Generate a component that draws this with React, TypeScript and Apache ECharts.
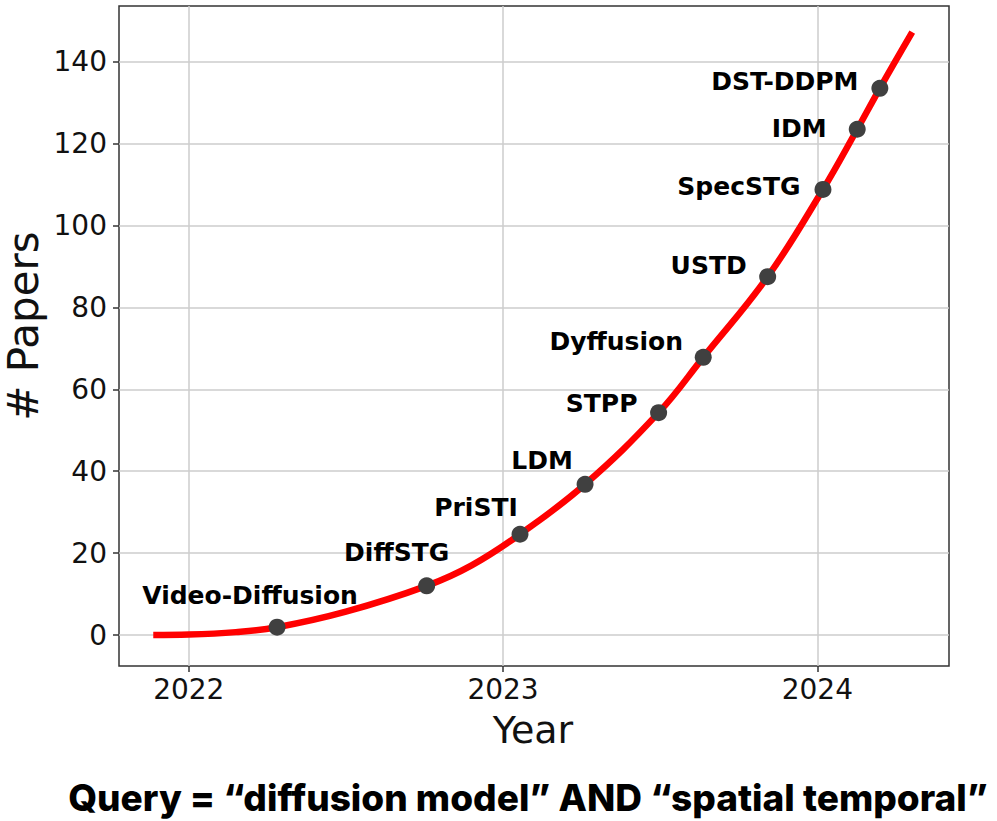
import React, { useEffect, useRef } from "react";
import * as echarts from "echarts";

// Smooth trend curve (year, # papers)
const curveYears = [2021.887, 2022.0, 2022.15, 2022.281, 2022.5, 2022.757, 2022.9, 2023.054, 2023.261, 2023.495, 2023.637, 2023.842, 2024.018, 2024.127, 2024.199, 2024.302];
const curveCounts = [0, 0.1, 0.7, 1.9, 5.7, 12.0, 17.0, 24.6, 36.8, 54.3, 67.8, 87.5, 108.8, 123.5, 133.5, 147.2];

// Annotated papers
const paperNames = ["Video-Diffusion", "DiffSTG", "PriSTI", "LDM", "STPP", "Dyffusion", "USTD", "SpecSTG", "IDM", "DST-DDPM"];
const paperYears = [2022.281, 2022.757, 2023.054, 2023.261, 2023.495, 2023.637, 2023.842, 2024.018, 2024.127, 2024.199];
const paperCounts = [1.9, 12.0, 24.6, 36.8, 54.3, 67.8, 87.5, 108.8, 123.5, 133.5];

// Tick labels
const xTicks = [2022, 2023, 2024];
const yTicks = [0, 20, 40, 60, 80, 100, 120, 140];

// Label placement (layout only): offset of label centre from its dot, px
const labelOffsets = [[-27, -32], [-30, -33], [-44, -27], [-43, -24], [-57, -9], [-87, -16], [-59, -11], [-84, -3], [-58, -1], [-95, -7]];

const X_MIN = 2021.778;
const X_MAX = 2024.419;
const Y_MIN = -7.57;
const Y_MAX = 153.6;

export default function App() {
  const ref = useRef<HTMLDivElement>(null);

  useEffect(() => {
    if (!ref.current) return;
    const chart = echarts.init(ref.current, null, { renderer: "svg" });

    const axisColor = "#333333";
    const gridColor = "#cccccc";

    chart.setOption({
      animation: false,
      backgroundColor: "#ffffff",
      grid: {
        left: 119,
        top: 6,
        right: 48,
        bottom: 155,
        show: true,
        borderColor: axisColor,
        borderWidth: 1.5,
        backgroundColor: "transparent",
      },
      xAxis: {
        type: "value",
        position: "bottom",
        min: X_MIN,
        max: X_MAX,
        axisLine: { show: false, onZero: false },
        axisTick: {
          show: true,
          inside: false,
          length: 6,
          customValues: xTicks,
          lineStyle: { color: axisColor, width: 1.5 },
        },
        axisLabel: {
          customValues: xTicks,
          margin: 9,
          fontFamily: "DejaVu Sans",
          fontSize: 28,
          color: "#111111",
          formatter: (v: number) => String(Math.round(v)),
        },
        splitLine: { show: true, lineStyle: { color: gridColor, width: 1.5 } },
      },
      yAxis: {
        type: "value",
        position: "left",
        min: Y_MIN,
        max: Y_MAX,
        axisLine: { show: false, onZero: false },
        axisTick: {
          show: true,
          inside: false,
          length: 6,
          customValues: yTicks,
          lineStyle: { color: axisColor, width: 1.5 },
        },
        axisLabel: {
          customValues: yTicks,
          margin: 12,
          fontFamily: "DejaVu Sans",
          fontSize: 28,
          color: "#111111",
          formatter: (v: number) => String(Math.round(v)),
        },
        splitLine: { show: true, lineStyle: { color: gridColor, width: 1.5 } },
      },
      series: [
        {
          type: "line",
          data: curveYears.map((y, i) => [y, curveCounts[i]]),
          smooth: 0.4,
          showSymbol: false,
          lineStyle: { color: "#ff0000", width: 6.5, cap: "butt" },
          z: 2,
        },
        {
          type: "scatter",
          data: paperYears.map((y, i) => ({
            value: [y, paperCounts[i]],
            name: paperNames[i],
            label: { offset: labelOffsets[i] },
          })),
          symbol: "circle",
          symbolSize: 17,
          itemStyle: { color: "#404040", opacity: 1 },
          label: {
            show: true,
            position: "inside",
            align: "center",
            verticalAlign: "middle",
            formatter: (p: any) => p.name,
            fontFamily: "DejaVu Sans",
            fontWeight: "bold",
            fontSize: 25,
            color: "#000000",
          },
          z: 3,
        },
      ],
      graphic: [
        {
          type: "text",
          x: 533,
          y: 730,
          style: {
            text: "Year",
            fontFamily: "DejaVu Sans",
            fontSize: 38,
            fill: "#111111",
            align: "center",
            verticalAlign: "middle",
          },
        },
        {
          type: "text",
          x: 23,
          y: 326,
          rotation: Math.PI / 2,
          style: {
            text: "# Papers",
            fontFamily: "DejaVu Sans",
            fontSize: 42,
            fill: "#111111",
            align: "center",
            verticalAlign: "middle",
          },
        },
        {
          type: "text",
          x: 528,
          y: 797,
          style: {
            text: "Query = \u201cdiffusion model\u201d AND \u201cspatial temporal\u201d",
            fontFamily: "Inter",
            fontWeight: 800,
            fontSize: 37,
            fill: "#000000",
            align: "center",
            verticalAlign: "middle",
          },
        },
      ],
    });

    return () => chart.dispose();
  }, []);

  return (
    <div
      ref={ref}
      style={{ position: "absolute", left: 0, top: 0, width: 997, height: 821 }}
    />
  );
}
